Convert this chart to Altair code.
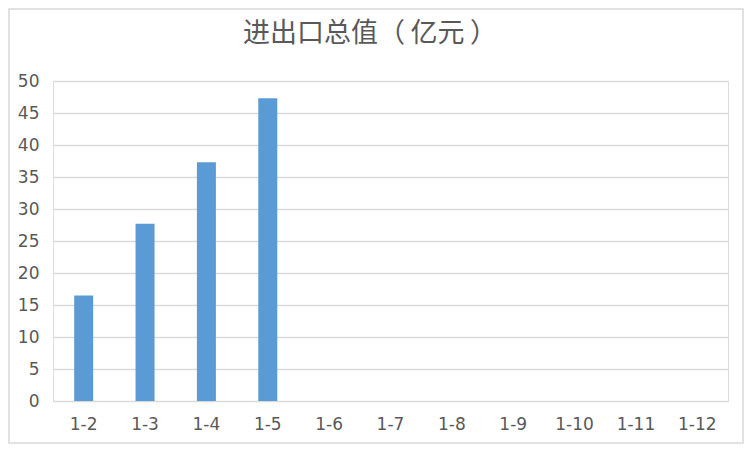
import altair as alt
import pandas as pd

title_text = "进出口总值（\u2009亿元\u2009）"
categories = ["1-2", "1-3", "1-4", "1-5", "1-6", "1-7", "1-8", "1-9", "1-10", "1-11", "1-12"]
values = [16.5, 27.7, 37.3, 47.3, None, None, None, None, None, None, None]

df = pd.DataFrame({"month": categories, "value": values})

label_color = "#595959"
grid_color = "#d9d9d9"

bars = (
    alt.Chart(df)
    .mark_bar(color="#5b9bd5", width=19)
    .encode(
        x=alt.X(
            "month:N",
            sort=categories,
            scale=alt.Scale(paddingInner=0, paddingOuter=0),
            axis=alt.Axis(
                title=None,
                labelAngle=0,
                domain=False,
                ticks=False,
                labelPadding=15,
                labelFont="DejaVu Sans",
                labelFontSize=17,
                labelColor=label_color,
            ),
        ),
        y=alt.Y(
            "value:Q",
            scale=alt.Scale(domain=[0, 50], nice=False),
            axis=alt.Axis(
                title=None,
                values=list(range(0, 55, 5)),
                domain=False,
                ticks=False,
                grid=True,
                gridColor=grid_color,
                gridWidth=1.5,
                labelPadding=14,
                labelFont="DejaVu Sans",
                labelFontSize=17,
                labelColor=label_color,
            ),
        ),
    )
)

one = pd.DataFrame({"t": [title_text]})

frame = (
    alt.Chart(one)
    .mark_rect(fill=None, stroke=grid_color, strokeWidth=1.5)
    .encode(
        x=alt.value(-44),
        x2=alt.value(690),
        y=alt.value(-72),
        y2=alt.value(362),
    )
)

title = (
    alt.Chart(one)
    .mark_text(
        font="Noto Sans CJK SC",
        fontSize=27,
        color=label_color,
        align="center",
        baseline="middle",
    )
    .encode(text="t:N", x=alt.value(317), y=alt.value(-47))
)

chart = (
    alt.layer(bars, frame, title)
    .properties(
        width=675,
        height=320,
        autosize=alt.AutoSizeParams(type="none"),
        padding={"left": 45, "top": 73, "right": 16, "bottom": 43},
    )
    .configure_view(stroke=None)
    .configure(background="white")
)

chart.save("out.html", embed_options={"renderer": "svg", "actions": False})
